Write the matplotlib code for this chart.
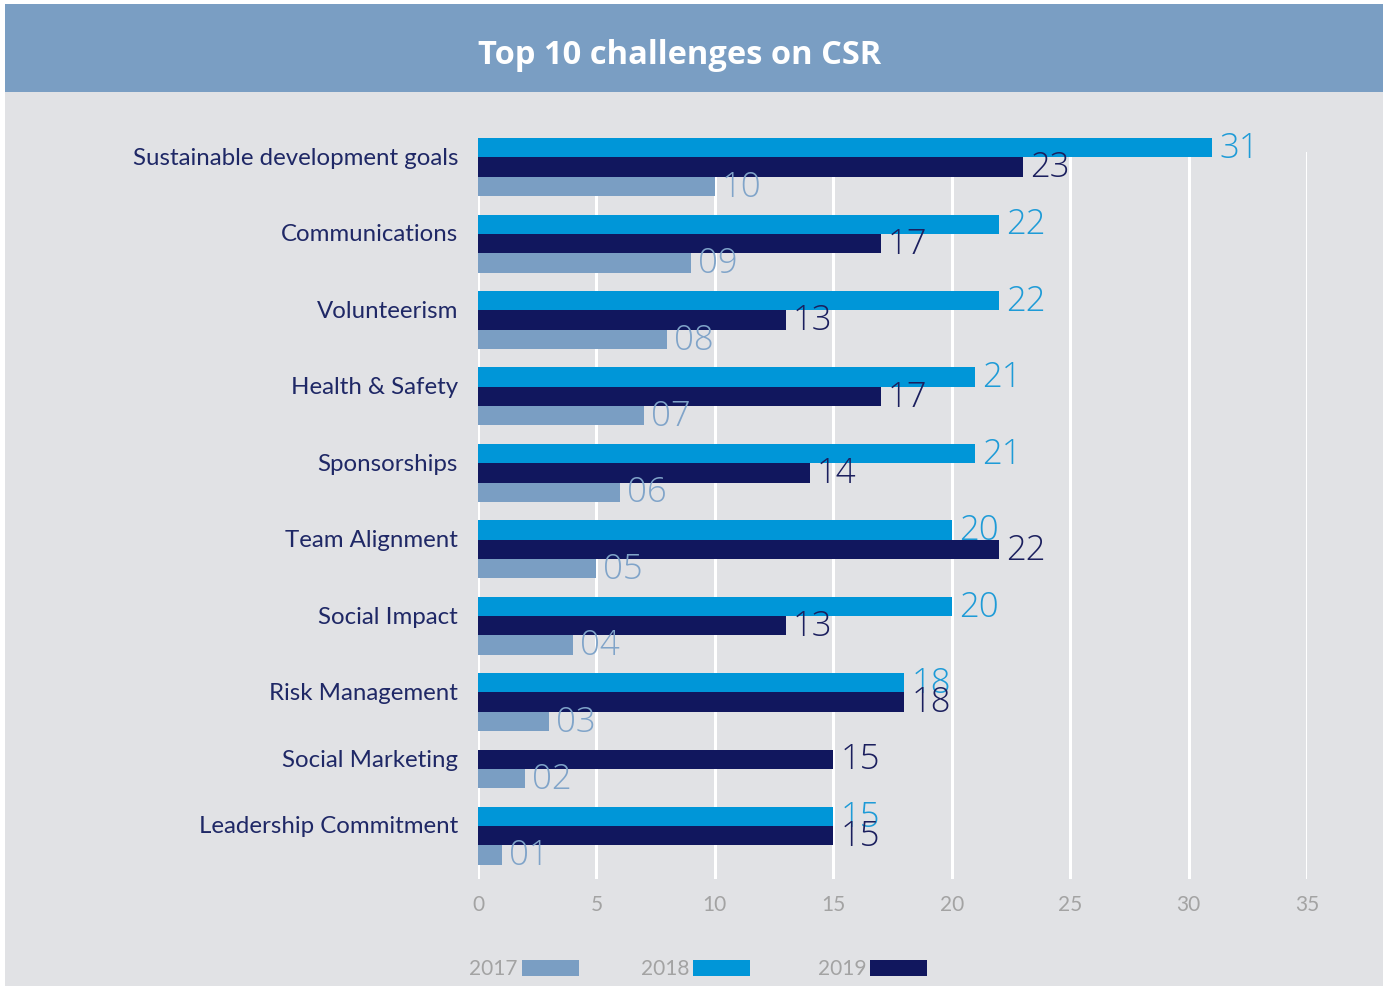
import matplotlib.pyplot as plt
from matplotlib.patches import Rectangle

# Dados do gráfico
categorias = ['Sustainable development goals', 'Communications', 'Volunteerism',
              'Health & Safety', 'Sponsorships', 'Team Alignment', 'Social Impact',
              'Risk Management', 'Social Marketing', 'Leadership Commitment']
valores_2018 = [31, 22, 22, 21, 21, 20, 20, 18, None, 15]
valores_2019 = [23, 17, 13, 17, 14, 22, 13, 18, 15, 15]
valores_2017 = [10, 9, 8, 7, 6, 5, 4, 3, 2, 1]
anos = ['2017', '2018', '2019']
ticks_x = [0, 5, 10, 15, 20, 25, 30, 35]

# Cores
cor_cabecalho = '#7a9ec3'
cor_fundo = '#e1e2e5'
cor_2017 = '#7a9ec3'
cor_2018 = '#0096d8'
cor_2019 = '#11175e'
cor_texto = '#1f2866'
cor_lbl_2017 = '#80a4c9'
cor_lbl_2018 = '#1e9bd7'
cor_lbl_2019 = '#1b1f5e'
cor_cinza = '#a3a3a3'

W, H = 1389, 987
fig = plt.figure(figsize=(W / 100, H / 100), dpi=100)
fig.patch.set_facecolor('white')

def px_rect(x0, y0, x1, y1, cor):
    # retângulo em pixels (origem no canto superior esquerdo)
    fig.add_artist(Rectangle((x0 / W, 1 - y1 / H), (x1 - x0) / W, (y1 - y0) / H,
                             transform=fig.transFigure, color=cor, lw=0, zorder=0))

px_rect(5, 93, 1383, 987, cor_fundo)
px_rect(5, 5, 1383, 93, cor_cabecalho)
fig.text(680 / W, 1 - 55 / H, 'Top 10 challenges on CSR', color='white',
         fontsize=23.5, fontweight='bold', family='Open Sans', ha='center', va='center')

ax = fig.add_axes([478 / W, 1 - 880 / H, (1307 - 478) / W, (880 - 153) / H])
ax.set_facecolor('none')

# Posições das barras: cada grupo ocupa só as barras que existem
h = 1.0
g = 0.95
y = 0.0
series = [(valores_2018, cor_2018, cor_lbl_2018, '{}'),
          (valores_2019, cor_2019, cor_lbl_2019, '{}'),
          (valores_2017, cor_2017, cor_lbl_2017, '{:02d}')]
for i, nome in enumerate(categorias):
    inicio = y
    for valores, cor, cor_lbl, fmt in series:
        v = valores[i]
        if v is None:
            continue
        centro = y + h / 2
        ax.barh(centro, v, height=h, color=cor, clip_on=False, zorder=3)
        ax.annotate(fmt.format(v), (v, centro), xytext=(5, 0), textcoords='offset points',
                    ha='left', va='center', fontsize=25, color=cor_lbl,
                    family='Open Sans', fontweight='light', zorder=4, annotation_clip=False)
        y += h
    meio = (inicio + y) / 2
    ax.text(-0.84, meio - 0.5 * h, nome, ha='right', va='center', fontsize=17.3,
            color=cor_texto, family='Lato', clip_on=False)
    y += g

ax.set_xlim(0, 35)
ax.set_ylim(38.29, 0.72)
ax.set_xticks(ticks_x)
ax.set_yticks([])
ax.tick_params(axis='x', length=0, pad=11, labelsize=15, labelcolor=cor_cinza)
for lbl in ax.get_xticklabels():
    lbl.set_family('Lato')
ax.grid(axis='x', color='white', linewidth=2.2, zorder=1)
ax.set_axisbelow(True)
for s in ax.spines.values():
    s.set_visible(False)

# Legenda
legenda = [(518, 522, cor_2017), (689, 693, cor_2018), (866, 870, cor_2019)]
for ano, (x_txt, x_patch, cor) in zip(anos, legenda):
    px_rect(x_patch, 961, x_patch + 57, 977, cor)
    fig.text(x_txt / W, 1 - 969 / H, ano, ha='right', va='center', fontsize=15,
             color=cor_cinza, family='Lato')

plt.savefig('out.png', dpi=100, facecolor=fig.get_facecolor())
